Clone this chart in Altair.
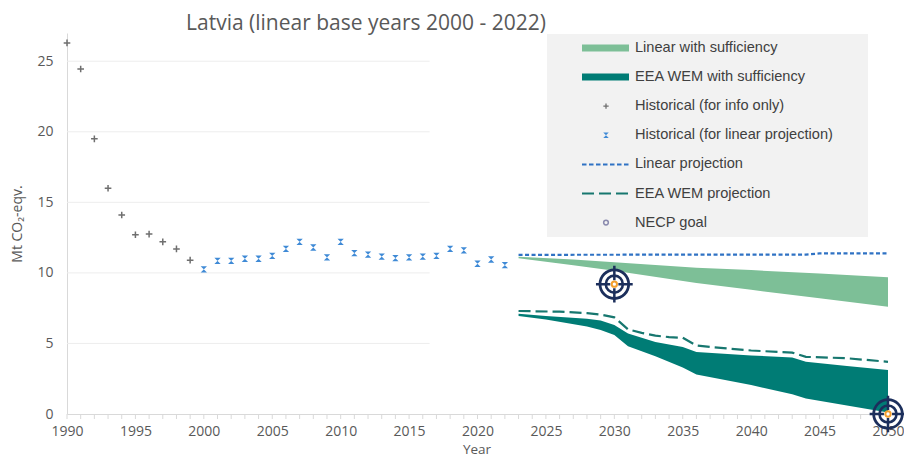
import altair as alt
import pandas as pd

# ---------------- data ----------------
hist_info_years = list(range(1990, 2000))
hist_info_values = [26.3, 24.45, 19.5, 16.0, 14.1, 12.7, 12.75, 12.2, 11.7, 10.9]

hist_lin_years = list(range(2000, 2023))
hist_lin_values = [10.25, 10.85, 10.85, 11.0, 11.0, 11.2, 11.7, 12.2, 11.8, 11.1,
                   12.2, 11.4, 11.3, 11.15, 11.05, 11.1, 11.15, 11.2, 11.7, 11.6,
                   10.65, 10.95, 10.55]

lin_proj_years = [2023, 2044, 2045, 2050]
lin_proj_values = [11.28, 11.3, 11.38, 11.38]

lin_suff_years = [2023, 2027, 2030, 2036, 2040, 2045, 2050]
lin_suff_upper = [11.15, 10.95, 10.75, 10.37, 10.2, 9.95, 9.69]
lin_suff_lower = [11.03, 10.55, 10.15, 9.28, 8.8, 8.2, 7.6]

wem_proj_years = [2023, 2026, 2028, 2029, 2030, 2031, 2032, 2033, 2034, 2035,
                  2036, 2037, 2040, 2043, 2044, 2047, 2050]
wem_proj_values = [7.3, 7.25, 7.15, 7.05, 6.85, 6.0, 5.75, 5.55, 5.45, 5.4,
                   4.85, 4.75, 4.5, 4.35, 4.05, 3.95, 3.7]

wem_suff_years = [2023, 2025, 2028, 2029, 2030, 2031, 2033, 2035, 2036, 2040,
                  2043, 2044, 2047, 2050]
wem_suff_upper = [7.1, 6.95, 6.75, 6.62, 6.3, 5.7, 5.1, 4.75, 4.4, 4.15,
                  4.0, 3.7, 3.4, 3.12]
wem_suff_lower = [6.95, 6.7, 6.2, 5.95, 5.6, 4.8, 4.1, 3.3, 2.8, 2.05,
                  1.4, 1.1, 0.6, 0.1]

goal_years = [2030, 2050]
goal_values = [9.2, 0.0]

grid_values = [5, 10, 15, 20, 25]
y_tick_values = [0, 5, 10, 15, 20, 25]
x_label_values = list(range(1990, 2051, 5))
x_minor_ticks = list(range(1990, 2051))

title_text = "Latvia (linear base years 2000 - 2022)"
y_title_text = "Mt CO\u2082-eqv."
x_title_text = "Year"
legend_labels = ["Linear with sufficiency", "EEA WEM with sufficiency",
                 "Historical (for info only)", "Historical (for linear projection)",
                 "Linear projection", "EEA WEM projection", "NECP goal"]

# ---------------- styles ----------------
W, H = 821, 381
C_LIGHT = "#7dbf97"
C_TEAL = "#007c75"
C_WEM_LINE = "#17776f"
C_BLUE_LINE = "#2f72c4"
C_BLUE_PT = "#3f8ad6"
C_GRAY_PT = "#6f6f6f"
C_NAVY = "#1c2f5c"
C_ORANGE = "#f5a02e"
AXIS_COL = "#d9d9d9"
TXT_COL = "#595959"
FONT = "Open Sans"

df_hi = pd.DataFrame({"year": hist_info_years, "value": hist_info_values})
df_hl = pd.DataFrame({"year": hist_lin_years, "value": hist_lin_values})
df_lp = pd.DataFrame({"year": lin_proj_years, "value": lin_proj_values})
df_ls = pd.DataFrame({"year": lin_suff_years, "value": lin_suff_upper, "low": lin_suff_lower})
df_wp = pd.DataFrame({"year": wem_proj_years, "value": wem_proj_values})
df_ws = pd.DataFrame({"year": wem_suff_years, "value": wem_suff_upper, "low": wem_suff_lower})
df_goal = pd.DataFrame({"year": goal_years, "value": goal_values})
df_grid = pd.DataFrame({"value": grid_values})
df_minor = pd.DataFrame({"year": x_minor_ticks})
one = pd.DataFrame({"k": [0]})

X = alt.X("year:Q",
          scale=alt.Scale(domain=[1990, 2050], nice=False, zero=False),
          axis=alt.Axis(values=x_label_values, format="d", labelOverlap=False, labelFlush=False,
                        ticks=False, domainColor=AXIS_COL, grid=False, labelFont=FONT,
                        labelFontSize=14, labelColor=TXT_COL, labelPadding=10, title=None))
Y = alt.Y("value:Q",
          scale=alt.Scale(domain=[0, 27], nice=False),
          axis=alt.Axis(values=y_tick_values, ticks=False, domainColor=AXIS_COL, grid=False,
                        labelFont=FONT, labelFontSize=14, labelColor=TXT_COL, labelPadding=14,
                        title=None))

grid = alt.Chart(df_grid).mark_rule(color="#ededed", strokeWidth=1).encode(
    y=Y, x=alt.datum(1990), x2=alt.datum(2016.5))
minor = alt.Chart(df_minor).mark_rule(color=AXIS_COL, strokeWidth=1).encode(
    x=X, y=alt.value(H), y2=alt.value(H + 5))

band_lin = alt.Chart(df_ls).mark_area(color=C_LIGHT, opacity=1).encode(x=X, y=Y, y2="low:Q")
band_wem = alt.Chart(df_ws).mark_area(color=C_TEAL, opacity=1).encode(x=X, y=Y, y2="low:Q")
line_lin = alt.Chart(df_lp).mark_line(color=C_BLUE_LINE, strokeWidth=2.2, strokeDash=[4, 2.5]).encode(x=X, y=Y)
line_wem = alt.Chart(df_wp).mark_line(color=C_WEM_LINE, strokeWidth=2.2, strokeDash=[12, 5]).encode(x=X, y=Y)

PLUS = "M-1,0L1,0M0,-1L0,1"
HOURGLASS = "M-1,-1L1,-1L-1,1L1,1Z"
CROSSHAIR = "M-1,0L-0.22,0M0.22,0L1,0M0,-1L0,-0.22M0,0.22L0,1"

pts_info = alt.Chart(df_hi).mark_point(shape=PLUS, size=44, color=C_GRAY_PT, strokeWidth=1.5,
                                       filled=False, opacity=1).encode(x=X, y=Y)
pts_lin = alt.Chart(df_hl).mark_point(shape=HOURGLASS, size=40, color=C_BLUE_PT, filled=True,
                                      opacity=1).encode(x=X, y=Y)

goal_cross = alt.Chart(df_goal).mark_point(shape=CROSSHAIR, size=1350, color=C_NAVY, strokeWidth=2.5,
                                           filled=False, opacity=1).encode(x=X, y=Y)
goal_outer = alt.Chart(df_goal).mark_point(shape="circle", size=820, color=C_NAVY, strokeWidth=2.8,
                                           filled=False, opacity=1).encode(x=X, y=Y)
goal_inner = alt.Chart(df_goal).mark_point(shape="circle", size=290, color=C_NAVY, strokeWidth=2.6,
                                           filled=False, opacity=1).encode(x=X, y=Y)
goal_dot = alt.Chart(df_goal).mark_point(shape="circle", size=28, stroke=C_ORANGE, fill="white",
                                         strokeWidth=2, filled=True, opacity=1).encode(x=X, y=Y)

# ---------------- legend (drawn manually) ----------------
LX0, LX1 = 480, 801
row_y = [15 + 29.1 * i for i in range(7)]
sw0, sw1, sym_x, txt_x = 515, 562, 539, 568

legend_layers = [alt.Chart(one).mark_rect(color="#f2f2f2").encode(
    x=alt.value(LX0), x2=alt.value(LX1), y=alt.value(1), y2=alt.value(204))]
legend_layers.append(alt.Chart(one).mark_rule(color=C_LIGHT, strokeWidth=7).encode(
    x=alt.value(sw0), x2=alt.value(sw1), y=alt.value(row_y[0])))
legend_layers.append(alt.Chart(one).mark_rule(color=C_TEAL, strokeWidth=7).encode(
    x=alt.value(sw0), x2=alt.value(sw1), y=alt.value(row_y[1])))
legend_layers.append(alt.Chart(one).mark_point(shape=PLUS, size=28, color=C_GRAY_PT, strokeWidth=1.3,
                                               filled=False, opacity=1).encode(x=alt.value(sym_x), y=alt.value(row_y[2])))
legend_layers.append(alt.Chart(one).mark_point(shape=HOURGLASS, size=30, color=C_BLUE_PT, filled=True,
                                               opacity=1).encode(x=alt.value(sym_x), y=alt.value(row_y[3])))
legend_layers.append(alt.Chart(one).mark_rule(color=C_BLUE_LINE, strokeWidth=2, strokeDash=[4.5, 2.5]).encode(
    x=alt.value(sw0), x2=alt.value(sw1), y=alt.value(row_y[4])))
legend_layers.append(alt.Chart(one).mark_rule(color=C_WEM_LINE, strokeWidth=2.2, strokeDash=[12, 5]).encode(
    x=alt.value(sw0), x2=alt.value(sw1), y=alt.value(row_y[5])))
legend_layers.append(alt.Chart(one).mark_point(shape="circle", size=22, color="#8a8aae", strokeWidth=1.5,
                                               filled=False, opacity=1).encode(x=alt.value(sym_x), y=alt.value(row_y[6])))
for lab, yy in zip(legend_labels, row_y):
    legend_layers.append(alt.Chart(one).mark_text(
        align="left", baseline="middle", font="Liberation Sans", fontSize=14.6, color="#404040").encode(
        x=alt.value(txt_x), y=alt.value(yy), text=alt.value(lab)))

# ---------------- titles ----------------
title_mark = alt.Chart(one).mark_text(align="center", baseline="middle", font=FONT, fontSize=21,
                                      color=TXT_COL).encode(
    x=alt.value(299), y=alt.value(-9.5), text=alt.value(title_text))
y_title = alt.Chart(one).mark_text(align="center", baseline="middle", font=FONT, fontSize=14,
                                   color=TXT_COL, angle=270).encode(
    x=alt.value(-49), y=alt.value(191), text=alt.value(y_title_text))
x_title = alt.Chart(one).mark_text(align="center", baseline="middle", font=FONT, fontSize=13.5,
                                   color=TXT_COL).encode(
    x=alt.value(410), y=alt.value(416.5), text=alt.value(x_title_text))

chart = alt.layer(
    grid, minor, band_lin, band_wem, line_lin, line_wem, pts_info, pts_lin,
    goal_cross, goal_outer, goal_inner, goal_dot,
    *legend_layers, title_mark, y_title, x_title
).properties(
    width=W, height=H,
    autosize=alt.AutoSizeParams(type="none"),
    padding={"left": 59, "top": 25, "right": 16, "bottom": 45},
    background="white",
).configure_view(stroke=None)

chart.save("out.html", embed_options={"renderer": "svg", "actions": False})
